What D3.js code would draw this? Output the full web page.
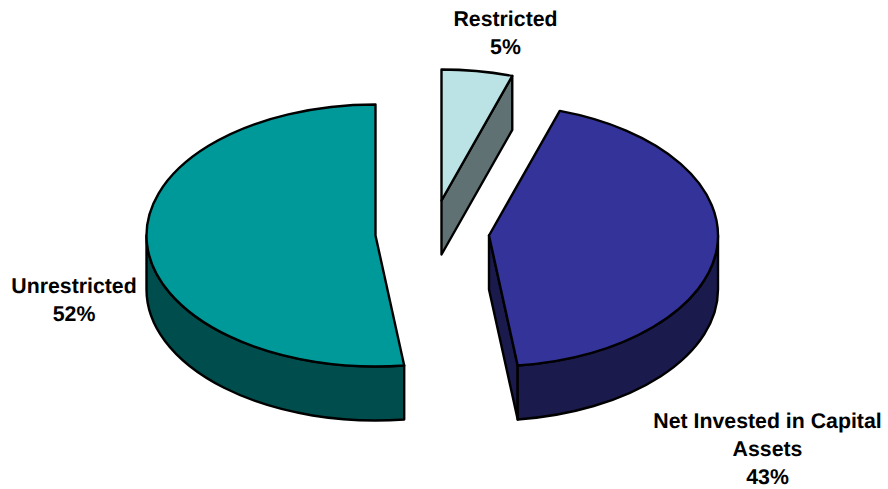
<!DOCTYPE html>
<html><head><meta charset="utf-8">
<style>html,body{margin:0;padding:0;background:#fff}svg{display:block}text{font-family:"Liberation Sans",Arial,sans-serif;font-weight:bold;font-size:21.3px;fill:#000;text-anchor:middle;text-rendering:geometricPrecision}</style>
<script src="https://cdnjs.cloudflare.com/ajax/libs/d3/7.8.5/d3.min.js"></script>
</head><body><svg id="c" width="888" height="489"></svg>
<script>
const categories=["Restricted","Net Invested in Capital Assets","Unrestricted"];
const shares=[5,43,52];
const topColors=["#bbe2e4","#333399","#009999"];
const wallColors=["#5f7172","#1a1a4d","#004d4d"];
const centers=[[441.5,200.5],[489,235.5],[375.5,235.5]];
const labelLines=[["Restricted","5%"],["Net Invested in Capital","Assets","43%"],["Unrestricted","52%"]];
const labelPos=[[505.5,26],[767.5,428],[74,293]];
const rx=229,ry=131,depth=54;
const svg=d3.select("#c");
const arcs=d3.pie().sort(null).value(d=>d)(shares);
const pt=(c,a,dy=0)=>[c[0]+rx*Math.sin(a),c[1]-ry*Math.cos(a)+dy];
function ell(c,a0,a1,dy){
  const p=pt(c,a1,dy);return `A${rx},${ry} 0 ${a1-a0>Math.PI?1:0} 1 ${p[0]},${p[1]}`;}
function ellBack(c,a0,a1,dy){const p=pt(c,a0,dy);return `A${rx},${ry} 0 ${a1-a0>Math.PI?1:0} 0 ${p[0]},${p[1]}`;}
const g=svg.append("g").attr("stroke","#000").attr("stroke-width",2.4).attr("stroke-linejoin","round");
function poly(pts,fill){g.append("path").attr("d",d3.line()(pts)+"Z").attr("fill",fill);}
function wall(c,a0,a1,fill){
  const s=pt(c,a0),e=pt(c,a1);
  g.append("path").attr("fill",fill).attr("d",`M${s}${ell(c,a0,a1,0)}L${e[0]},${e[1]+depth}${ellBack(c,a0,a1,depth)}Z`);
}
arcs.forEach((d,i)=>{
  const c=centers[i],a0=d.startAngle,a1=d.endAngle;
  if(i===0){const e=pt(c,a1);poly([c,e,[e[0],e[1]+depth],[c[0],c[1]+depth]],wallColors[i]);}
  if(i===1){const e=pt(c,a1);poly([c,e,[e[0],e[1]+depth],[c[0],c[1]+depth]],wallColors[i]);
    wall(c,Math.PI/2,a1,wallColors[i]);}
  if(i===2){wall(c,a0,3*Math.PI/2,wallColors[i]);}
  const s=pt(c,a0);
  g.append("path").attr("fill",topColors[i]).attr("d",`M${c}L${s}${ell(c,a0,a1,0)}Z`);
});
labelLines.forEach((ls,i)=>{
  ls.forEach((t,j)=>svg.append("text").attr("x",labelPos[i][0]).attr("y",labelPos[i][1]+j*28).text(t));
});
</script></body></html>
